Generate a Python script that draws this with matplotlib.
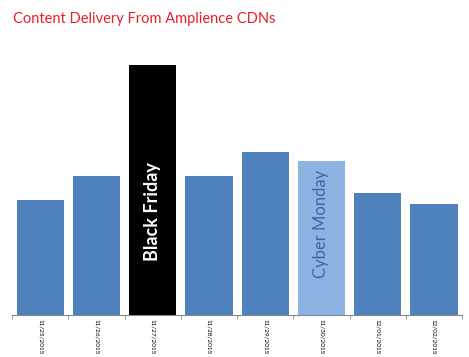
import numpy as np
import matplotlib.pyplot as plt

dates = ['11/25/2015', '11/26/2015', '11/27/2015', '11/28/2015',
         '11/29/2015', '11/30/2015', '12/01/2015', '12/02/2015']
traffic = [115, 139, 250, 139, 163, 154, 122, 111]
bar_colors = ['#4f81bd', '#4f81bd', '#000000', '#4f81bd',
              '#4f81bd', '#8db3e2', '#4f81bd', '#4f81bd']

fig = plt.figure(figsize=(4.69, 3.57), dpi=100)
ax = fig.add_axes([12/469, 42/357, 450/469, 275/357])

x = np.arange(len(dates))
ax.bar(x, traffic, width=0.84, color=bar_colors)
ax.set_xlim(-0.5, len(dates) - 0.5)
ax.set_ylim(0, 275)

for s in ['top', 'right', 'left']:
    ax.spines[s].set_visible(False)
ax.spines['bottom'].set_color('#888888')
ax.spines['bottom'].set_linewidth(0.8)
ax.set_yticks([])

ax.set_xticks(x)
ax.set_xticklabels(dates, rotation=270, fontsize=4.6, family='Lato')
ax.tick_params(axis='x', which='major', length=0, pad=3)
ax.set_xticks(np.arange(-0.5, len(dates)), minor=True)
ax.tick_params(axis='x', which='minor', length=3, color='#888888')

ax.text(2, 103, 'Black Friday', rotation=90, ha='center', va='center',
        color='white', fontsize=13, fontweight='bold', family='Lato')
ax.text(5, 91, 'Cyber Monday', rotation=90, ha='center', va='center',
        color='#3e66a6', fontsize=12, family='Lato')

fig.text(13/469, 1 - 19/357, 'Content Delivery From Amplience CDNs',
         color='#e8202a', fontsize=10.5, family='Lato', va='center')

fig.savefig('out.png', dpi=100)
